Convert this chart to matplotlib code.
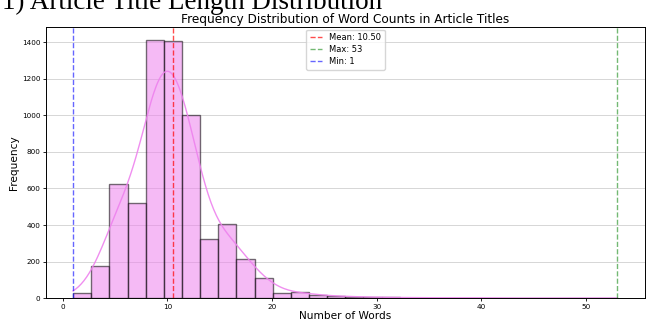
import numpy as np
import matplotlib.pyplot as plt

# histogram: 30 bins spanning min..max word count
min_words = 1
max_words = 53
mean_words = 10.50
bin_counts = [30, 175, 625, 522, 1412, 1407, 1003, 323, 405, 213,
              108, 28, 35, 16, 11, 8, 5, 4, 3, 2,
              2, 1, 2, 1, 0, 0, 0, 1, 0, 1]

edges = np.linspace(min_words, max_words, len(bin_counts) + 1)
centers = (edges[:-1] + edges[1:]) / 2
w = np.array(bin_counts, dtype=float)
width = edges[1] - edges[0]

# gaussian kde (scott's rule, widened for binned data), scaled to counts
n = w.sum()
mu = (centers * w).sum() / n
sd = np.sqrt(((centers - mu) ** 2 * w).sum() / n)
bw = 2.3 * sd * n ** (-1 / 5)
xs = np.linspace(min_words, max_words, 400)
dens = (w[None, :] * np.exp(-0.5 * ((xs[:, None] - centers[None, :]) / bw) ** 2)).sum(1)
dens = dens / (bw * np.sqrt(2 * np.pi)) * width

fig = plt.figure(figsize=(6.46, 3.23), dpi=100)
ax = fig.add_axes([0.071, 0.077, 0.927, 0.839])

ax.hist(centers, bins=edges, weights=bin_counts, color='violet', alpha=0.55,
        edgecolor='black', linewidth=1.0)
ax.plot(xs, dens, color='violet', linewidth=1.0, alpha=0.9)

ax.axvline(mean_words, color='red', linestyle='--', linewidth=1.0, alpha=0.7,
           label=f'Mean: {mean_words:.2f}')
ax.axvline(max_words, color='green', linestyle='--', linewidth=1.0, alpha=0.55,
           label=f'Max: {max_words}')
ax.axvline(min_words, color='blue', linestyle='--', linewidth=1.0, alpha=0.6,
           label=f'Min: {min_words}')

ax.set_title('Frequency Distribution of Word Counts in Article Titles', fontsize=8.75, pad=3)
ax.set_xlabel('Number of Words', fontsize=7.6, labelpad=1)
ax.set_ylabel('Frequency', fontsize=7.6, labelpad=2)
ax.tick_params(labelsize=5.2, length=2.5, pad=1.5, width=0.6)
ax.grid(axis='y', alpha=0.6, linewidth=0.6)
ax.set_axisbelow(True)
for s in ax.spines.values():
    s.set_linewidth(0.7)
ax.legend(loc='upper center', fontsize=6, handlelength=1.5, handletextpad=0.8,
          framealpha=0.8, borderpad=0.45, labelspacing=0.35, borderaxespad=0.3)

# heading from the surrounding document, cut off at the top
fig.text(0.003, 0.973, '1) Article Title Length Distribution', fontsize=19.5,
         family='Liberation Serif', va='baseline', ha='left')

fig.savefig('out.png', dpi=100)
